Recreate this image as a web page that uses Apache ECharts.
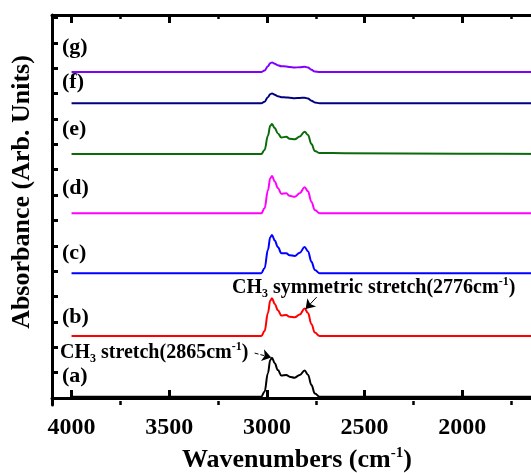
<!DOCTYPE html>
<html>
<head>
<meta charset="utf-8">
<title>FTIR spectra</title>
<script src="https://cdn.jsdelivr.net/npm/echarts@6/dist/echarts.min.js"></script>
<style>
html, body { margin: 0; padding: 0; overflow: hidden; background: #fff; }
#main { width: 600px; height: 473px; }
</style>
</head>
<body>
<div id="main"></div>
<script type="text/javascript">
// wavenumber sample points (cm-1), shared by every curve
var wavenumbers = [4000, 3200, 3029, 3012, 2995, 2983, 2974, 2960, 2944, 2926, 2901, 2884, 2858, 2832, 2807, 2790, 2772, 2755, 2730, 2600, 2000, 1500];
// absorbance (stacked, arb. units)
var specA = [0.05, 0.05, 0.05, 0.25, 0.98, 1.50, 1.59, 1.37, 1.10, 0.89, 0.91, 0.84, 0.80, 0.91, 1.08, 0.92, 0.51, 0.18, 0.05, 0.05, 0.05, 0.05];
var specB = [2.44, 2.44, 2.44, 2.64, 3.35, 3.84, 3.93, 3.71, 3.46, 3.25, 3.27, 3.20, 3.18, 3.29, 3.53, 3.35, 2.91, 2.58, 2.44, 2.44, 2.44, 2.44];
var specC = [4.92, 4.92, 4.92, 5.12, 5.84, 6.34, 6.43, 6.21, 5.95, 5.71, 5.71, 5.63, 5.60, 5.73, 5.95, 5.79, 5.37, 5.05, 4.92, 4.92, 4.92, 4.92];
var specD = [7.28, 7.28, 7.28, 7.48, 8.18, 8.66, 8.75, 8.54, 8.28, 8.05, 8.07, 7.97, 7.93, 8.07, 8.31, 8.15, 7.73, 7.41, 7.28, 7.28, 7.28, 7.28];
var specE = [9.62, 9.62, 9.62, 9.78, 10.34, 10.73, 10.80, 10.64, 10.43, 10.27, 10.30, 10.22, 10.20, 10.31, 10.50, 10.37, 10.01, 9.74, 9.66, 9.65, 9.63, 9.62];
var specF = [11.62, 11.62, 11.62, 11.68, 11.86, 11.98, 12.01, 11.96, 11.90, 11.86, 11.85, 11.84, 11.82, 11.83, 11.84, 11.81, 11.72, 11.65, 11.62, 11.62, 11.62, 11.62];
var specG = [12.85, 12.85, 12.85, 12.91, 13.08, 13.20, 13.23, 13.18, 13.12, 13.08, 13.07, 13.05, 13.03, 13.04, 13.06, 13.03, 12.94, 12.87, 12.85, 12.85, 12.85, 12.85];

var sampleNames = ['(a)', '(b)', '(c)', '(d)', '(e)', '(f)', '(g)'];
var majorTicks = [1500, 2000, 2500, 3000, 3500, 4000];
var minorTicks = [1750, 2250, 2750, 3250, 3750];
var yTicks = [0, 1, 2, 3, 4, 5, 6, 7, 8, 9, 10, 11, 12, 13, 14, 15];

var colors = ['#000000', '#ff0000', '#0000ff', '#ff00ff', '#0b6b0b', '#000080', '#8000ff'];
var specs = [specA, specB, specC, specD, specE, specF, specG];

var serif = 'Liberation Serif, Times New Roman, serif';

function pairs(ys) {
    return wavenumbers.map(function (x, i) { return [x, ys[i]]; });
}

var series = specs.map(function (ys, i) {
    return {
        name: sampleNames[i],
        type: 'line',
        data: pairs(ys),
        showSymbol: false,
        smooth: 0.4,
        smoothMonotone: 'x',
        lineStyle: { color: colors[i], width: 2 },
        itemStyle: { color: colors[i] },
        z: 3
    };
});

// arrows pointing at the two peaks
series[0].markLine = {
    silent: true,
    symbol: ['none', 'arrow'],
    symbolSize: 9,
    label: { show: false },
    lineStyle: { color: '#000', width: 1, type: 'dashed' },
    data: [[{ coord: [3063, 1.77] }, { coord: [2978, 1.60] }]]
};
series[1].markLine = {
    silent: true,
    symbol: ['none', 'arrow'],
    symbolSize: 9,
    label: { show: false },
    lineStyle: { color: '#000', width: 1, type: 'solid' },
    data: [[{ coord: [2745, 3.98] }, { coord: [2802, 3.51] }]]
};

function xAxisOf(pos, major) {
    return {
        type: 'value',
        position: pos,
        min: 1500,
        max: 4100,
        inverse: true,
        splitLine: { show: false },
        axisLine: { show: major, lineStyle: { color: '#000', width: 3 } },
        axisTick: {
            inside: true,
            length: major ? 8 : 4,
            customValues: major ? majorTicks : minorTicks,
            lineStyle: { color: '#000', width: major ? 3 : 2.5 }
        },
        axisLabel: {
            show: major && pos === 'bottom',
            customValues: majorTicks,
            formatter: function (v) { return String(v); },
            margin: 11,
            color: '#000',
            fontFamily: serif,
            fontWeight: 'bold',
            fontSize: 24
        }
    };
}

var labelY = [378, 319, 255, 190, 131, 84, 49];

var graphics = sampleNames.map(function (t, i) {
    return {
        type: 'text',
        left: 62,
        top: labelY[i] - 13,
        style: { text: t, fill: '#000', font: 'bold 22px ' + serif }
    };
});

var richBase = {
    n: { fontFamily: serif, fontWeight: 'bold', fontSize: 20, lineHeight: 24, color: '#000' },
    s: { fontFamily: serif, fontWeight: 'bold', fontSize: 12, verticalAlign: 'bottom', color: '#000' },
    p: { fontFamily: serif, fontWeight: 'bold', fontSize: 12, verticalAlign: 'top', color: '#000' }
};

graphics.push({
    type: 'text',
    left: 60,
    top: 341,
    style: { text: '{n|CH}{s|3}{n| stretch(2865cm}{p|-1}{n|)}', rich: richBase }
});
graphics.push({
    type: 'text',
    left: 232,
    top: 276,
    style: { text: '{n|CH}{s|3}{n| symmetric stretch(2776cm}{p|-1}{n|)}', rich: richBase }
});
graphics.push({
    type: 'text',
    left: 182,
    top: 446,
    style: {
        text: '{n|Wavenumbers (cm}{p|-1}{n|)}',
        rich: {
            n: { fontFamily: serif, fontWeight: 'bold', fontSize: 26, lineHeight: 29, color: '#000' },
            p: { fontFamily: serif, fontWeight: 'bold', fontSize: 15, verticalAlign: 'top', color: '#000' }
        }
    }
});
graphics.push({
    type: 'text',
    x: 22,
    y: 192,
    rotation: Math.PI / 2,
    style: {
        text: 'Absorbance (Arb. Units)',
        fill: '#000',
        font: 'bold 26px ' + serif,
        align: 'center',
        verticalAlign: 'middle',
        textAlign: 'center',
        textVerticalAlign: 'middle'
    }
});

var myChart = echarts.init(document.getElementById('main'));
var option = {
    animation: false,
    backgroundColor: '#fff',
    grid: { left: 52, right: 40, top: 15, bottom: 68 },
    xAxis: [
        xAxisOf('bottom', true),
        xAxisOf('bottom', false),
        xAxisOf('top', true),
        xAxisOf('top', false)
    ],
    yAxis: {
        type: 'value',
        min: -0.276,
        max: 15.1,
        splitLine: { show: false },
        axisLine: { show: true, lineStyle: { color: '#000', width: 3 } },
        axisTick: { inside: true, length: 6, customValues: yTicks, lineStyle: { color: '#000', width: 3 } },
        axisLabel: { show: false }
    },
    graphic: graphics,
    series: series
};
myChart.setOption(option);
</script>
</body>
</html>
